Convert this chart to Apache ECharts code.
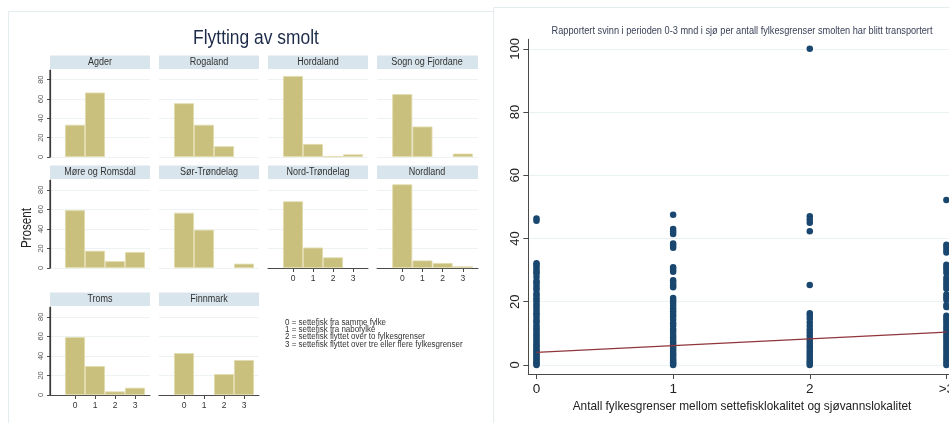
<!DOCTYPE html>
<html><head><meta charset="utf-8">
<script src="https://cdn.jsdelivr.net/npm/echarts@6/dist/echarts.min.js"></script>
<style>html,body{margin:0;padding:0;background:#fff}#c{width:949px;height:423px}</style>
</head><body><div id="c"></div>
<script>
// ---------- data: left panel (percent of sites per distance class) ----------
const distances = [0, 1, 2, 3];
const distanceTickLabels = ['0', '1', '2', '3'];
const percentTicks = [0, 20, 40, 60, 80];
const regions = ['Agder', 'Rogaland', 'Hordaland', 'Sogn og Fjordane', 'Møre og Romsdal',
  'Sør-Trøndelag', 'Nord-Trøndelag', 'Nordland', 'Troms', 'Finnmark'];
const agder = [33.3, 66.7, 0, 0];
const rogaland = [55.6, 33.3, 11.1, 0];
const hordaland = [83.8, 13.5, 0.6, 2.7];
const sognOgFjordane = [65.0, 31.5, 0, 3.5];
const moreOgRomsdal = [59.1, 17.6, 7.0, 16.3];
const sorTrondelag = [56.5, 39.1, 0, 4.4];
const nordTrondelag = [68.2, 20.9, 10.9, 0];
const nordland = [85.5, 7.7, 5.1, 1.7];
const troms = [59.3, 29.6, 3.7, 7.4];
const finnmark = [42.9, 0, 21.4, 35.7];
const legendLines = [
  '0 = settefisk fra samme fylke',
  '1 = settefisk fra nabofylke',
  '2 = settefisk flyttet over to fylkesgrenser',
  '3 = settefisk flyttet over tre eller flere fylkesgrenser'
];

// ---------- data: right panel (reported loss %, by number of county borders) ----------
const svinnTicks = [0, 20, 40, 60, 80, 100];
const borderTickValues = [0, 1, 2, 3];
const borderTickLabels = ['0', '1', '2', '>3'];
const svinn0 = [46.3, 45.6, 32.2, 31.6, 31.0, 30.1, 29.4, 28.9, 27.8, 26.6, 26.1, 25.3, 24.4, 23.8, 22.6,
  22.0, 21.1, 20.5, 19.6, 18.8, 18.1, 17.2, 16.4, 15.8, 14.9, 14.1, 13.5, 12.6, 11.8, 11.2, 10.4, 9.7,
  9.0, 8.3, 7.7, 7.0, 6.4, 5.9, 5.2, 4.6, 4.1, 3.5, 3.0, 2.4, 1.9, 1.3, 0.8, 0.4, 0.0];
const svinn1 = [47.5, 43.0, 42.2, 41.4, 38.4, 37.8, 37.1, 30.9, 30.2, 29.5, 26.8, 26.0, 25.2, 24.6, 21.2,
  20.4, 19.6, 18.7, 17.9, 17.0, 16.1, 15.3, 14.3, 13.2, 12.4, 11.3, 10.5, 9.6, 8.8, 8.0, 7.2, 6.5, 5.8,
  5.1, 4.5, 3.8, 3.2, 2.6, 2.0, 1.4, 0.9, 0.4, 0.0];
const svinn2 = [100, 47.0, 46.0, 45.0, 42.3, 25.3, 16.4, 15.6, 14.6, 13.4, 12.3, 11.2, 10.3, 9.3, 8.4, 7.6,
  6.7, 5.9, 5.1, 4.3, 3.5, 2.7, 1.9, 1.2, 0.6, 0.0];
const svinn3 = [52.2, 38.0, 37.3, 36.4, 35.6, 31.7, 30.9, 30.1, 29.2, 27.6, 26.7, 25.8, 25.0, 24.1, 22.3,
  21.4, 20.6, 19.0, 18.3, 15.6, 14.8, 14.0, 13.1, 12.2, 11.4, 10.5, 9.6, 8.7, 7.9, 7.0, 6.1, 5.2, 4.4,
  3.5, 2.6, 1.8, 0.9, 0.0];
const fitStart = [0, 4.0];
const fitEnd = [3, 10.4];

const panelValues = [agder, rogaland, hordaland, sognOgFjordane, moreOgRomsdal,
  sorTrondelag, nordTrondelag, nordland, troms, finnmark];

// ---------- layout ----------
const FONT = "'Liberation Sans',Arial,sans-serif";
const colLeft = [50, 159, 268, 377];
const rowTop = [70, 180, 307];
const rowH = [87, 88, 88];
const panelW = 100;
const barColor = '#c9c07d';
const gridColor = '#edf2f4';
const axisColor = '#4a4a4a';

const grids = [], xAxes = [], yAxes = [], series = [], graphics = [];

function txt(x, y, text, size, fill, scaleX, extra) {
  return Object.assign({ type: 'text', x: x, y: y, scaleX: scaleX,
    style: { text: text, font: `${size}px ${FONT}`, fill: fill, align: 'center', verticalAlign: 'middle' } }, extra || {});
}

// frames
graphics.push({ type: 'line', z: 0, shape: { x1: 8.5, y1: 11.5, x2: 493, y2: 11.5 }, style: { stroke: '#e4ecef', lineWidth: 1 } });
graphics.push({ type: 'line', z: 0, shape: { x1: 8.5, y1: 11.5, x2: 8.5, y2: 423 }, style: { stroke: '#e4ecef', lineWidth: 1 } });
graphics.push({ type: 'line', z: 0, shape: { x1: 493.5, y1: 7.5, x2: 949, y2: 7.5 }, style: { stroke: '#e4ecef', lineWidth: 1 } });
graphics.push({ type: 'line', z: 0, shape: { x1: 493.5, y1: 7.5, x2: 493.5, y2: 423 }, style: { stroke: '#e4ecef', lineWidth: 1 } });

graphics.push(txt(256, 38, 'Flytting av smolt', 20.5, '#1c2a48', 0.85));
graphics.push(txt(27, 228, 'Prosent', 14, '#222', 0.83, { rotation: Math.PI / 2 }));
legendLines.forEach((t, k) => {
  const g = txt(285, 322.3 + k * 7.4, t, 8.4, '#333', 0.95);
  g.style.align = 'left';
  graphics.push(g);
});

regions.forEach((name, i) => {
  const row = Math.floor(i / 4), col = i % 4;
  const left = colLeft[col], top = rowTop[row], h = rowH[row];
  const showY = col === 0;
  const showX = i >= 6;
  const w = panelW + (col === 3 ? 1 : 0);
  grids.push({ left: left, top: top, width: w, height: h, containLabel: false, outerBoundsMode: 'none' });
  xAxes.push({
    type: 'value', gridIndex: i, min: -1.25, max: 3.75,
    axisLine: { show: showX, onZero: false, lineStyle: { color: axisColor, width: 1 } },
    axisTick: { show: showX, customValues: distances, length: 4, lineStyle: { color: axisColor } },
    axisLabel: { show: showX, customValues: distances, formatter: v => distanceTickLabels[distances.indexOf(v)],
      fontSize: 8.5, fontFamily: FONT, color: '#333', margin: 6 },
    splitLine: { show: false }
  });
  yAxes.push({
    type: 'value', gridIndex: i, min: 0, max: 90, position: 'left',
    axisLine: { show: showY, onZero: false, lineStyle: { color: '#3a3a3a', width: 1.2 } },
    axisTick: { show: showY, customValues: percentTicks, length: 3, lineStyle: { color: axisColor, width: 1 } },
    axisLabel: { show: showY, customValues: percentTicks, rotate: 90, fontSize: 7.5, fontFamily: FONT, color: '#555', margin: 5 },
    splitLine: { show: true, lineStyle: { color: gridColor, width: 1 } }
  });
  if (showY) {
    // reinforce the panel's left axis rule along the grid edge
    graphics.push({ type: 'line', z: 20, silent: true, shape: { x1: left, y1: top, x2: left, y2: top + h },
      style: { stroke: '#3a3a3a', lineWidth: 1.2 } });
  }
  series.push({
    type: 'bar', xAxisIndex: i, yAxisIndex: i, barWidth: 20, silent: true,
    itemStyle: { color: barColor, borderColor: '#e2dcae', borderWidth: 0.8 },
    data: distances.map((d, k) => [d, panelValues[i][k]]).filter(p => p[1] > 0)
  });
  graphics.push({ type: 'rect', shape: { x: left, y: top - 14.5, width: w, height: 13.5 }, style: { fill: '#d9e5ec' } });
  graphics.push(txt(left + panelW / 2, top - 7.7, name, 10, '#333', 0.9));
});

// ---------- right scatter ----------
const S = regions.length;
grids.push({ left: 528.3, top: 39.3, width: 420.7, height: 334.7, containLabel: false, outerBoundsMode: 'none' });
xAxes.push({
  type: 'value', gridIndex: S, min: -0.06, max: 3.019,
  axisLine: { show: true, onZero: false, lineStyle: { color: axisColor, width: 1 } },
  axisTick: { show: true, customValues: borderTickValues, length: 5, lineStyle: { color: axisColor } },
  axisLabel: { show: true, customValues: borderTickValues, formatter: v => borderTickLabels[borderTickValues.indexOf(v)],
    fontSize: 13.5, fontFamily: FONT, color: '#222', margin: 8, showMaxLabel: true, hideOverlap: false },
  splitLine: { show: false }
});
yAxes.push({
  type: 'value', gridIndex: S, min: -2.85, max: 103,
  axisLine: { show: true, onZero: false, lineStyle: { color: axisColor, width: 1 } },
  axisTick: { show: true, customValues: svinnTicks, length: 5, lineStyle: { color: axisColor } },
  axisLabel: { show: true, customValues: svinnTicks, rotate: 90, fontSize: 13, fontFamily: FONT, color: '#222', margin: 6 },
  splitLine: { show: true, lineStyle: { color: '#eaf2f3', width: 1.2 } }
});
const scatterData = []
  .concat(svinn0.map(v => [0, v]))
  .concat(svinn1.map(v => [1, v]))
  .concat(svinn2.map(v => [2, v]))
  .concat(svinn3.map(v => [3, v]));
series.push({ type: 'scatter', xAxisIndex: S, yAxisIndex: S, symbolSize: 6.5, silent: true, clip: false,
  itemStyle: { color: '#1a476f', opacity: 1 }, data: scatterData, z: 3 });
series.push({ type: 'line', xAxisIndex: S, yAxisIndex: S, symbol: 'none', silent: true, clip: false,
  lineStyle: { color: '#90353b', width: 1.1 }, data: [fitStart, fitEnd], z: 4 });

graphics.push(txt(742, 31, 'Rapportert svinn i perioden 0-3 mnd i sjø per antall fylkesgrenser smolten har blitt transportert', 11.5, '#3a4258', 0.8));
graphics.push(txt(742, 406, 'Antall fylkesgrenser mellom settefisklokalitet og sjøvannslokalitet', 13, '#222', 0.91));

const chart = echarts.init(document.getElementById('c'), null, { renderer: 'canvas' });
chart.setOption({
  animation: false,
  backgroundColor: '#fff',
  grid: grids, xAxis: xAxes, yAxis: yAxes, series: series,
  graphic: { elements: graphics }
});
</script></body></html>
